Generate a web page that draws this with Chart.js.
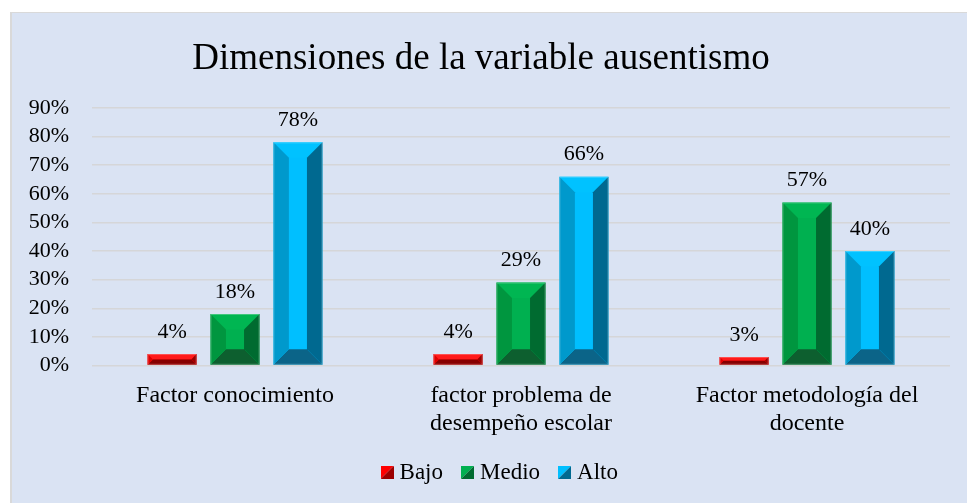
<!DOCTYPE html>
<html>
<head>
<meta charset="utf-8">
<script src="https://cdn.jsdelivr.net/npm/chart.js@4.4.0/dist/chart.umd.min.js"></script>
<style>
  html, body { margin: 0; padding: 0; background: #fff; overflow: hidden; }
  #box {
    position: absolute; left: 10px; top: 12px; width: 957px; height: 491px;
    background: #dae3f3; border-left: 2px solid #d9d9d9; border-top: 1px solid #d9d9d9;
    overflow: hidden;
  }
  #chart { display: block; }
</style>
</head>
<body>
<div id="box"><canvas id="chart" width="955" height="481" style="width:955px;height:481px"></canvas></div>
<script>
const categories = [
  ['Factor conocimiento'],
  ['factor problema de', 'desempeño escolar'],
  ['Factor metodología del', 'docente']
]
const seriesNames = ['Bajo', 'Medio', 'Alto']
const bajo = [4, 4, 3]
const medio = [18, 29, 57]
const alto = [78, 66, 40]
const yTicks = [0, 10, 20, 30, 40, 50, 60, 70, 80, 90]

const FONT = "'Liberation Serif', 'Times New Roman', serif"

// front, top, left, right, bottom faces of the bevelled bars
const palette = [
  { front: '#ff0000', top: '#ff1a1a', left: '#e00000', right: '#9c0000', bottom: '#870000' },
  { front: '#00b050', top: '#00b652', left: '#00963f', right: '#006b30', bottom: '#0d5f2f' },
  { front: '#00bfff', top: '#00c2ff', left: '#0099cc', right: '#006990', bottom: '#0b6488' }
]

function legendSwatch(c) {
  const cv = document.createElement('canvas')
  cv.width = 13
  cv.height = 13
  const g = cv.getContext('2d')
  g.fillStyle = c.front
  g.beginPath(); g.moveTo(0, 0); g.lineTo(13, 0); g.lineTo(0, 13); g.closePath(); g.fill()
  g.fillStyle = c.right
  g.beginPath(); g.moveTo(13, 0); g.lineTo(13, 13); g.lineTo(0, 13); g.closePath(); g.fill()
  return cv
}
const swatches = palette.map(legendSwatch)

const bevelPlugin = {
  id: 'bevel',
  afterLayout(chart) {
    // nudge the legend row to the right like the original
    if (chart.legend) chart.legend.left += 42
  },
  afterDatasetsDraw(chart) {
    const ctx = chart.ctx
    ctx.save()
    chart.data.datasets.forEach((ds, di) => {
      const c = palette[di]
      chart.getDatasetMeta(di).data.forEach((bar, i) => {
        const { x, y, base, width } = bar.getProps(['x', 'y', 'base', 'width'], true)
        const L = x - width / 2, R = x + width / 2, T = y, B = base
        const d = Math.min(15.5, (B - T) / 2, width / 2)
        const poly = (pts, color) => {
          ctx.fillStyle = color
          ctx.beginPath()
          ctx.moveTo(pts[0][0], pts[0][1])
          for (let k = 1; k < pts.length; k++) ctx.lineTo(pts[k][0], pts[k][1])
          ctx.closePath()
          ctx.fill()
        }
        poly([[L, T], [R, T], [R - d, T + d], [L + d, T + d]], c.top)
        poly([[L, B], [R, B], [R - d, B - d], [L + d, B - d]], c.bottom)
        poly([[L, T], [L + d, T + d], [L + d, B - d], [L, B]], c.left)
        poly([[R, T], [R - d, T + d], [R - d, B - d], [R, B]], c.right)
        ctx.strokeStyle = 'rgba(255,255,255,0.25)'
        ctx.lineWidth = 1
        ctx.strokeRect(L + 0.5, T + 0.5, width - 1, B - T - 1)

        // value label
        ctx.fillStyle = '#000'
        ctx.font = `22px ${FONT}`
        ctx.textAlign = 'center'
        ctx.textBaseline = 'middle'
        ctx.fillText(ds.data[i] + '%', x, T - 22)
      })
    })
    ctx.restore()
  }
}

const datasets = [bajo, medio, alto].map((vals, i) => ({
  label: seriesNames[i],
  data: vals,
  backgroundColor: palette[i].front,
  borderWidth: 0,
  categoryPercentage: 0.66,
  barPercentage: 0.78
}))

new Chart(document.getElementById('chart'), {
  type: 'bar',
  data: { labels: categories, datasets },
  plugins: [bevelPlugin],
  options: {
    responsive: false,
    animation: false,
    layout: { padding: { left: 0, right: 17, top: 0, bottom: 0 } },
    plugins: {
      title: {
        display: true,
        text: 'Dimensiones de la variable ausentismo',
        color: '#000',
        font: { family: FONT, size: 37, weight: 'normal', lineHeight: 1.2 },
        padding: { top: 24.5, bottom: 26.1 }
      },
      legend: {
        position: 'bottom',
        labels: {
          color: '#000',
          font: { family: FONT, size: 23 },
          usePointStyle: true,
          boxWidth: 2,
          boxHeight: 13,
          padding: 23.5,
          generateLabels(chart) {
            const items = Chart.defaults.plugins.legend.labels.generateLabels(chart)
            items.forEach((it, i) => { it.pointStyle = swatches[i] })
            return items
          }
        }
      },
      tooltip: { enabled: false }
    },
    scales: {
      x: {
        grid: { display: false, drawTicks: false },
        border: { display: false },
        ticks: {
          color: '#000',
          font: { family: FONT, size: 24, lineHeight: 1.167 },
          padding: 16,
          maxRotation: 0
        },
        afterFit(scale) { scale.height = 72 }
      },
      y: {
        min: 0,
        max: 90,
        grid: { color: '#d5d6d8', lineWidth: 1.5, drawTicks: false },
        border: { display: false },
        afterBuildTicks(scale) { scale.ticks = yTicks.map(v => ({ value: v })) },
        ticks: {
          color: '#000',
          font: { family: FONT, size: 22 },
          padding: 23,
          autoSkip: false,
          callback: v => v + '%'
        },
        afterFit(scale) { scale.width = 80 }
      }
    }
  }
})
</script>
</body>
</html>
